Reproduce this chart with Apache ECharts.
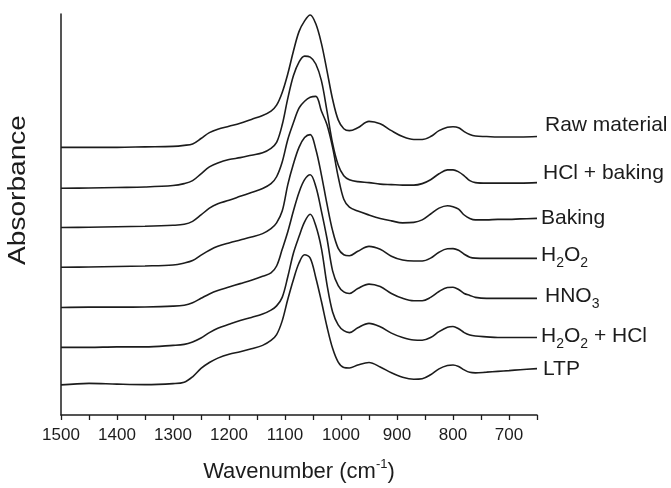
<!DOCTYPE html>
<html>
<head>
<meta charset="utf-8">
<script src="https://cdn.jsdelivr.net/npm/echarts@6/dist/echarts.min.js"></script>
<style>
html,body{margin:0;padding:0;background:#fff;}
#chart{width:671px;height:488px;}
</style>
</head>
<body>
<div id="chart"></div>
<script>
// Wavenumbers (cm-1), shared by all spectra
var wavenumbers = [1500,1450,1400,1350,1300,1280,1265,1250,1235,1220,1200,1180,1160,1140,1125,1115,1105,1095,1085,1075,1065,1055,1045,1035,1025,1015,1005,995,985,970,950,930,910,890,870,855,840,825,810,800,790,780,770,760,740,720,700,680,650];

// Absorbance (stacked with vertical offsets, arbitrary units)
var rawMaterial = [2.73,2.73,2.73,2.735,2.74,2.75,2.765,2.82,2.88,2.915,2.945,2.975,3.015,3.055,3.10,3.16,3.29,3.48,3.71,3.91,4.02,4.08,3.99,3.79,3.51,3.22,3.01,2.92,2.90,2.93,2.995,2.97,2.90,2.84,2.81,2.81,2.84,2.90,2.935,2.94,2.93,2.89,2.86,2.845,2.84,2.835,2.835,2.835,2.84];
var hclBaking = [2.313,2.315,2.32,2.325,2.34,2.36,2.39,2.46,2.53,2.57,2.605,2.625,2.65,2.675,2.72,2.78,2.96,3.23,3.46,3.60,3.66,3.65,3.58,3.41,3.10,2.77,2.55,2.44,2.40,2.38,2.37,2.355,2.35,2.345,2.345,2.36,2.40,2.46,2.50,2.50,2.48,2.44,2.39,2.37,2.365,2.365,2.365,2.365,2.37];
var baking = [1.913,1.915,1.92,1.925,1.935,1.945,1.975,2.04,2.11,2.155,2.19,2.23,2.27,2.31,2.36,2.43,2.58,2.81,2.98,3.13,3.20,3.24,3.25,3.10,2.96,2.73,2.43,2.20,2.12,2.08,2.04,2.005,1.98,1.96,1.965,1.99,2.05,2.11,2.135,2.125,2.10,2.04,2.005,1.99,1.99,1.995,1.995,2.00,2.005];
var h2o2 = [1.507,1.51,1.515,1.52,1.53,1.55,1.575,1.63,1.68,1.72,1.755,1.785,1.815,1.85,1.90,1.96,2.08,2.35,2.56,2.73,2.83,2.86,2.71,2.45,2.15,1.88,1.70,1.635,1.625,1.67,1.72,1.69,1.62,1.58,1.57,1.57,1.60,1.66,1.695,1.697,1.68,1.64,1.61,1.60,1.597,1.597,1.597,1.597,1.597];
var hno3 = [1.097,1.10,1.10,1.102,1.11,1.12,1.145,1.19,1.235,1.27,1.305,1.34,1.375,1.415,1.45,1.52,1.69,1.87,2.08,2.27,2.40,2.45,2.33,2.08,1.80,1.47,1.32,1.255,1.24,1.29,1.335,1.31,1.24,1.19,1.165,1.165,1.20,1.26,1.30,1.303,1.28,1.24,1.22,1.20,1.19,1.19,1.19,1.19,1.19];
var h2o2Hcl = [0.69,0.69,0.695,0.695,0.71,0.72,0.745,0.785,0.84,0.885,0.925,0.963,0.995,1.03,1.07,1.113,1.20,1.41,1.65,1.82,1.97,2.047,1.93,1.70,1.33,1.05,0.92,0.86,0.84,0.89,0.935,0.90,0.835,0.79,0.765,0.763,0.79,0.85,0.895,0.903,0.88,0.84,0.815,0.805,0.797,0.79,0.79,0.79,0.79];
var ltp = [0.307,0.323,0.315,0.31,0.32,0.335,0.39,0.475,0.535,0.58,0.62,0.645,0.675,0.71,0.76,0.82,0.96,1.18,1.38,1.55,1.635,1.60,1.40,1.16,0.90,0.68,0.54,0.485,0.48,0.51,0.535,0.49,0.43,0.385,0.365,0.37,0.41,0.47,0.505,0.51,0.495,0.46,0.435,0.43,0.437,0.445,0.453,0.462,0.473];

var seriesNames = ['Raw material','HCl + baking','Baking','H{s|2}O{s|2}','HNO{s|3}','H{s|2}O{s|2} + HCl','LTP'];
var seriesValues = [rawMaterial, hclBaking, baking, h2o2, hno3, h2o2Hcl, ltp];
var labelOffsets = [[8,-11],[6,-9],[4,0],[4,-3],[8,-2],[4,-1],[6,1]];

var FONT = "'Liberation Sans', Arial, sans-serif";
var INK = '#1c1c1c';

var chart = echarts.init(document.getElementById('chart'), null, {renderer:'canvas'});

var series = seriesValues.map(function(vals, k){
  return {
    type: 'line',
    name: seriesNames[k],
    data: wavenumbers.map(function(w, i){ return [w, vals[i]]; }),
    showSymbol: false,
    symbol: 'none',
    smooth: 0.35,
    lineStyle: {color: INK, width: 1.6},
    silent: true,
    animation: false,
    endLabel: {
      show: true,
      distance: 0,
      align: 'left',
      offset: labelOffsets[k],
      formatter: function(){ return seriesNames[k]; },
      color: INK,
      fontFamily: FONT,
      fontSize: 21,
      lineHeight: 30,
      verticalAlign: 'middle',
      rich: {
        s: {fontFamily: FONT, fontSize: 14, color: INK, verticalAlign: 'bottom', lineHeight: 14}
      }
    }
  };
});

chart.setOption({
  animation: false,
  backgroundColor: '#ffffff',
  grid: {left: 61, right: 134, top: 14, bottom: 65, containLabel: false},
  xAxis: {
    type: 'value',
    inverse: true,
    min: 650,
    max: 1500,
    interval: 50,
    name: '{a|Wavenumber (cm}{b|-1}{a|)}',
    nameLocation: 'middle',
    nameGap: 43,
    nameTextStyle: {
      rich: {
        a: {fontFamily: FONT, fontSize: 22, color: INK, lineHeight: 28, verticalAlign: 'middle'},
        b: {fontFamily: FONT, fontSize: 13, color: INK, lineHeight: 13, verticalAlign: 'top'}
      }
    },
    axisLine: {show: true, lineStyle: {color: INK, width: 1.5}},
    axisTick: {show: true, inside: false, length: 5, lineStyle: {color: INK, width: 1.3}},
    axisLabel: {
      show: true, margin: 12, color: INK, fontFamily: FONT, fontSize: 17,
      formatter: function(v){ return v % 100 === 0 ? String(v) : ''; }
    },
    splitLine: {show: false}
  },
  yAxis: {
    type: 'value',
    min: 0,
    max: 4.09,
    axisLine: {show: true, lineStyle: {color: INK, width: 1.5}},
    axisTick: {show: false},
    axisLabel: {show: false},
    splitLine: {show: false}
  },
  graphic: [{
    type: 'text',
    x: 19, y: 190,
    rotation: Math.PI / 2,
    scaleX: 1.22,
    style: {
      text: 'Absorbance',
      font: '23px ' + FONT,
      fill: INK,
      align: 'center',
      verticalAlign: 'middle'
    }
  }],
  series: series
});
</script>
</body>
</html>
